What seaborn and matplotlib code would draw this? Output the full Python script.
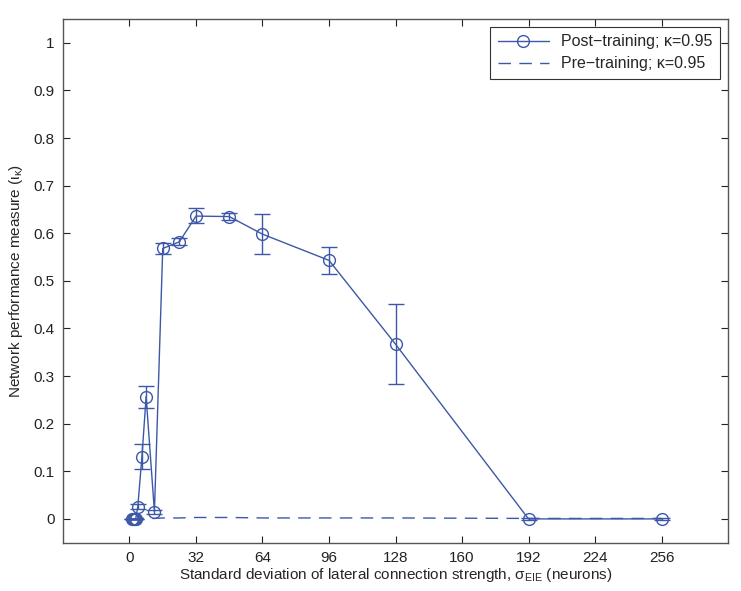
import numpy as np
import pandas as pd
import matplotlib
matplotlib.use("Agg")
import matplotlib.pyplot as plt
import seaborn as sns

# Data
sigma_post = [1, 1.5, 2, 2.5, 3, 4, 6, 8, 12, 16, 24, 32, 48, 64, 96, 128, 192, 256]
perf_post = [0, 0, 0, 0, 0, 0.026, 0.131, 0.257, 0.015, 0.568, 0.582, 0.636, 0.635, 0.598, 0.543, 0.367, 0.0, 0.0]
err_lo = [0, 0, 0, 0, 0, 0.006, 0.026, 0.024, 0.004, 0.011, 0.007, 0.015, 0.008, 0.041, 0.029, 0.084, 0.002, 0.002]
err_hi = [0, 0, 0, 0, 0, 0.006, 0.027, 0.023, 0.004, 0.012, 0.007, 0.016, 0.008, 0.042, 0.029, 0.084, 0.002, 0.002]
perf_pre = [0.0, 0.0, 0.0, 0.0, 0.0, 0.001, 0.001, 0.001, 0.001, 0.002, 0.002, 0.003, 0.003, 0.002, 0.002, 0.002, 0.001, 0.001]

xticks = [0, 32, 64, 96, 128, 160, 192, 224, 256]
yticks = [0, 0.1, 0.2, 0.3, 0.4, 0.5, 0.6, 0.7, 0.8, 0.9, 1]
ytick_labels = ["0", "0.1", "0.2", "0.3", "0.4", "0.5", "0.6", "0.7", "0.8", "0.9", "1"]

sns.set_theme(style="white")
plt.rcParams['font.family'] = ['Liberation Sans', 'DejaVu Sans']
plt.rcParams['mathtext.fontset'] = 'custom'
plt.rcParams['mathtext.rm'] = 'Liberation Sans'
plt.rcParams['mathtext.it'] = 'Liberation Sans'
plt.rcParams['mathtext.sf'] = 'Liberation Sans'

color = '#3D58A8'

fig = plt.figure(figsize=(7.41, 5.91), dpi=100)
ax = fig.add_axes([0.085, 0.0817, 0.8975, 0.8862])

df_post = pd.DataFrame({"sigma": sigma_post, "perf": perf_post})
df_pre = pd.DataFrame({"sigma": sigma_post, "perf": perf_pre})

ax.errorbar(sigma_post, perf_post, yerr=[err_lo, err_hi], fmt='none',
            ecolor=color, elinewidth=1.0, capsize=6, capthick=1.0, zorder=2)
sns.lineplot(data=df_post, x="sigma", y="perf", ax=ax, color=color, lw=1.0,
             marker='o', markersize=8.5, markerfacecolor='none', markeredgecolor=color,
             markeredgewidth=1.0, label='Post\u2212training; \u03ba=0.95', zorder=3)
sns.lineplot(data=df_pre, x="sigma", y="perf", ax=ax, color=color, lw=1.0,
             dashes=False, label='Pre\u2212training; \u03ba=0.95', zorder=3)
ax.lines[-1].set_linestyle((0, (9, 6)))

ax.set_xlim(-32, 288)
ax.set_ylim(-0.05, 1.05)
ax.set_xticks(xticks)
ax.set_yticks(yticks)
ax.set_yticklabels(ytick_labels)

ax.set_xlabel(r'Standard deviation of lateral connection strength, $\sigma_{\mathrm{EIE}}$ (neurons)',
              fontsize=11, labelpad=1)
ax.set_ylabel(r'Network performance measure ($\iota_{\kappa}$)', fontsize=11, labelpad=6)

ax.tick_params(direction='in', length=5, width=0.8, labelsize=11, colors='#222222',
               top=True, right=True, bottom=True, left=True, pad=6)
for s in ax.spines.values():
    s.set_color('#555555')
    s.set_linewidth(1.0)
    s.set_visible(True)

leg = ax.legend(loc='upper right', fontsize=11.5, frameon=True, fancybox=False,
                edgecolor='#333333', framealpha=1, handlelength=3.2,
                borderaxespad=0.5, borderpad=0.45, labelspacing=0.45)
leg.get_frame().set_linewidth(0.8)

fig.savefig('out.png', dpi=100)
